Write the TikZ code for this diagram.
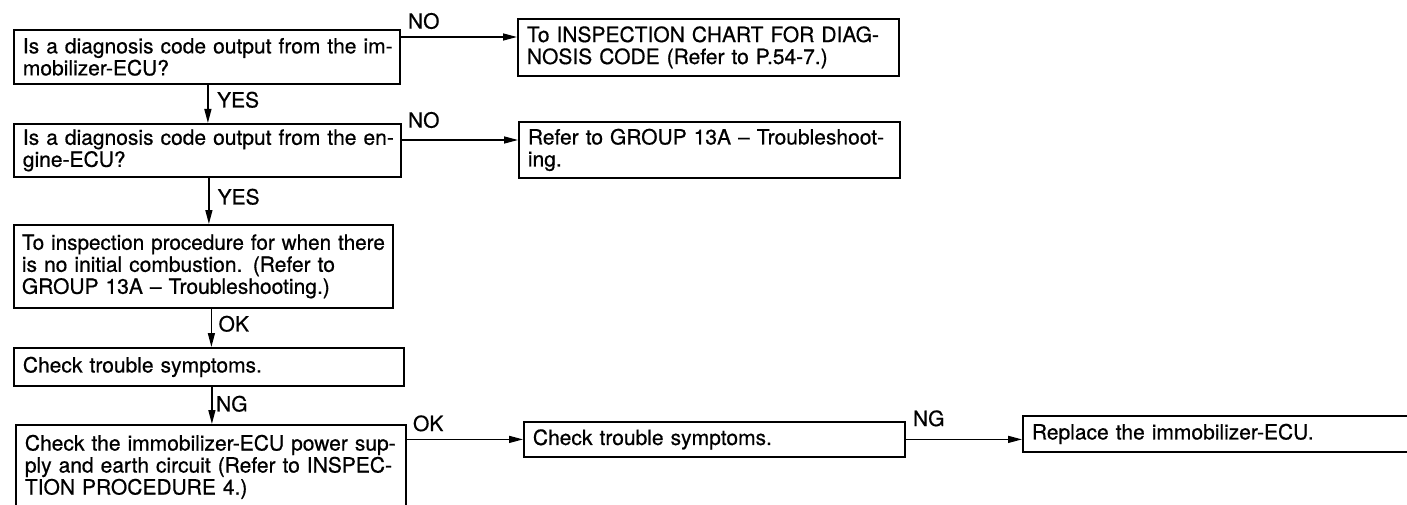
\documentclass[tikz,border=0pt]{standalone}
\usepackage{fontspec}
\usepackage{graphicx}
\setmainfont[FakeBold=0.6]{TeX Gyre Heros}
\usetikzlibrary{arrows.meta,calc}
\newcommand\jl[2]{\makebox[#1][s]{#2}}
\newcommand\jlfit[2]{\resizebox{#1}{\height}{#2}}
\newcommand\tfont{\fontsize{21}{22}\selectfont\spaceskip=0.36em plus 0.6em minus 0.17em\relax}
\begin{document}
\begin{tikzpicture}[x=1pt,y=-1pt,
  txt/.style={font=\tfont},
  box/.style={txt,draw,line width=1.8pt,anchor=north west,inner xsep=9pt,inner ysep=0pt,align=left},
  lbl/.style={txt,inner sep=0pt,anchor=west},
  arr/.style={line width=1.4pt,-{Triangle[length=14pt,width=7pt]}}]
\useasboundingbox (0,0) rectangle (1407,505);
\clip (0,0) rectangle (1407,505);
% left column
\node[box,text width=368pt,minimum height=54pt] (B1) at (13,29)
  {\jl{368pt}{Is a diagnosis code output from the im-}\\mobilizer-ECU?};
\node[box,text width=369pt,minimum height=53pt] (B2) at (13,123)
  {\jl{369pt}{Is a diagnosis code output from the en-}\\gine-ECU?};
\node[box,inner xsep=8pt,text width=363pt,minimum height=83pt] (B3) at (13,224)
  {\jlfit{363pt}{To inspection procedure for when there}\\\jl{363pt}{is no initial combustion. (Refer to}\\GROUP 13A \textendash{} Troubleshooting.)};
\node[box,text width=372pt,minimum height=38pt] (B4) at (13,347)
  {Check trouble symptoms.};
\node[box,text width=372pt,minimum height=84pt] (B5) at (15,424)
  {\jl{372pt}{Check the immobilizer-ECU power sup-}\\\jl{372pt}{ply and earth circuit (Refer to INSPEC-}\\TION PROCEDURE 4.)};
% right boxes
\node[box,text width=363pt,minimum height=57pt] (R1) at (517,18)
  {\jl{363pt}{To INSPECTION CHART FOR DIAG-}\\NOSIS CODE (Refer to P.54-7.)};
\node[box,text width=363pt,minimum height=56pt] (R2) at (518,121)
  {\jl{363pt}{Refer to GROUP 13A \textendash{} Troubleshoot-}\\ing.};
\node[box,text width=363pt,minimum height=35pt] (C2) at (523,421)
  {Check trouble symptoms.};
\node[box,text width=382pt,minimum height=36pt] (R3) at (1022,415)
  {Replace the immobilizer-ECU.};
% vertical connectors
\draw[arr] ([xshift=1pt]B1.south) -- ([xshift=1pt]B1.south |- B2.north);
\node[lbl] (yes1) at ($(B1.south)+(10,15)$) {YES};
\draw[arr] ([xshift=1.5pt]B2.south) -- ([xshift=1.5pt]B2.south |- B3.north);
\node[lbl] (yes2) at ($(B2.south)+(10,19)$) {YES};
\draw[arr] ([xshift=8pt]B3.south) -- ([xshift=8pt]B3.south |- B4.north);
\node[lbl] (ok1) at ($(B3.south)+(15,15)$) {OK};
\draw[arr] ([xshift=3pt]B4.south) -- ([xshift=3pt]B4.south |- B5.north);
\node[lbl] (ng1) at ($(B4.south)+(7,17)$) {NG};
% horizontal connectors
\draw[arr] ([yshift=-8pt]B1.north east) -- ([yshift=-8pt]B1.north east -| R1.west);
\node[lbl] (no1) at ([xshift=7pt,yshift=8pt]B1.north east) {NO};
\draw[arr] ([yshift=-17pt]B2.north east) -- ([yshift=-17pt]B2.north east -| R2.west);
\node[lbl] (no2) at ([xshift=6pt,yshift=3pt]B2.north east) {NO};
\draw[arr] (B5.east |- C2.west) -- (C2.west);
\node[lbl] (ok2) at ($(B5.east |- C2.west)+(6,-16)$) {OK};
\draw[arr] (C2.east) -- (C2.east -| R3.west);
\node[lbl] (ng2) at ($(C2.east)+(7,-21)$) {NG};
\end{tikzpicture}
\end{document}
